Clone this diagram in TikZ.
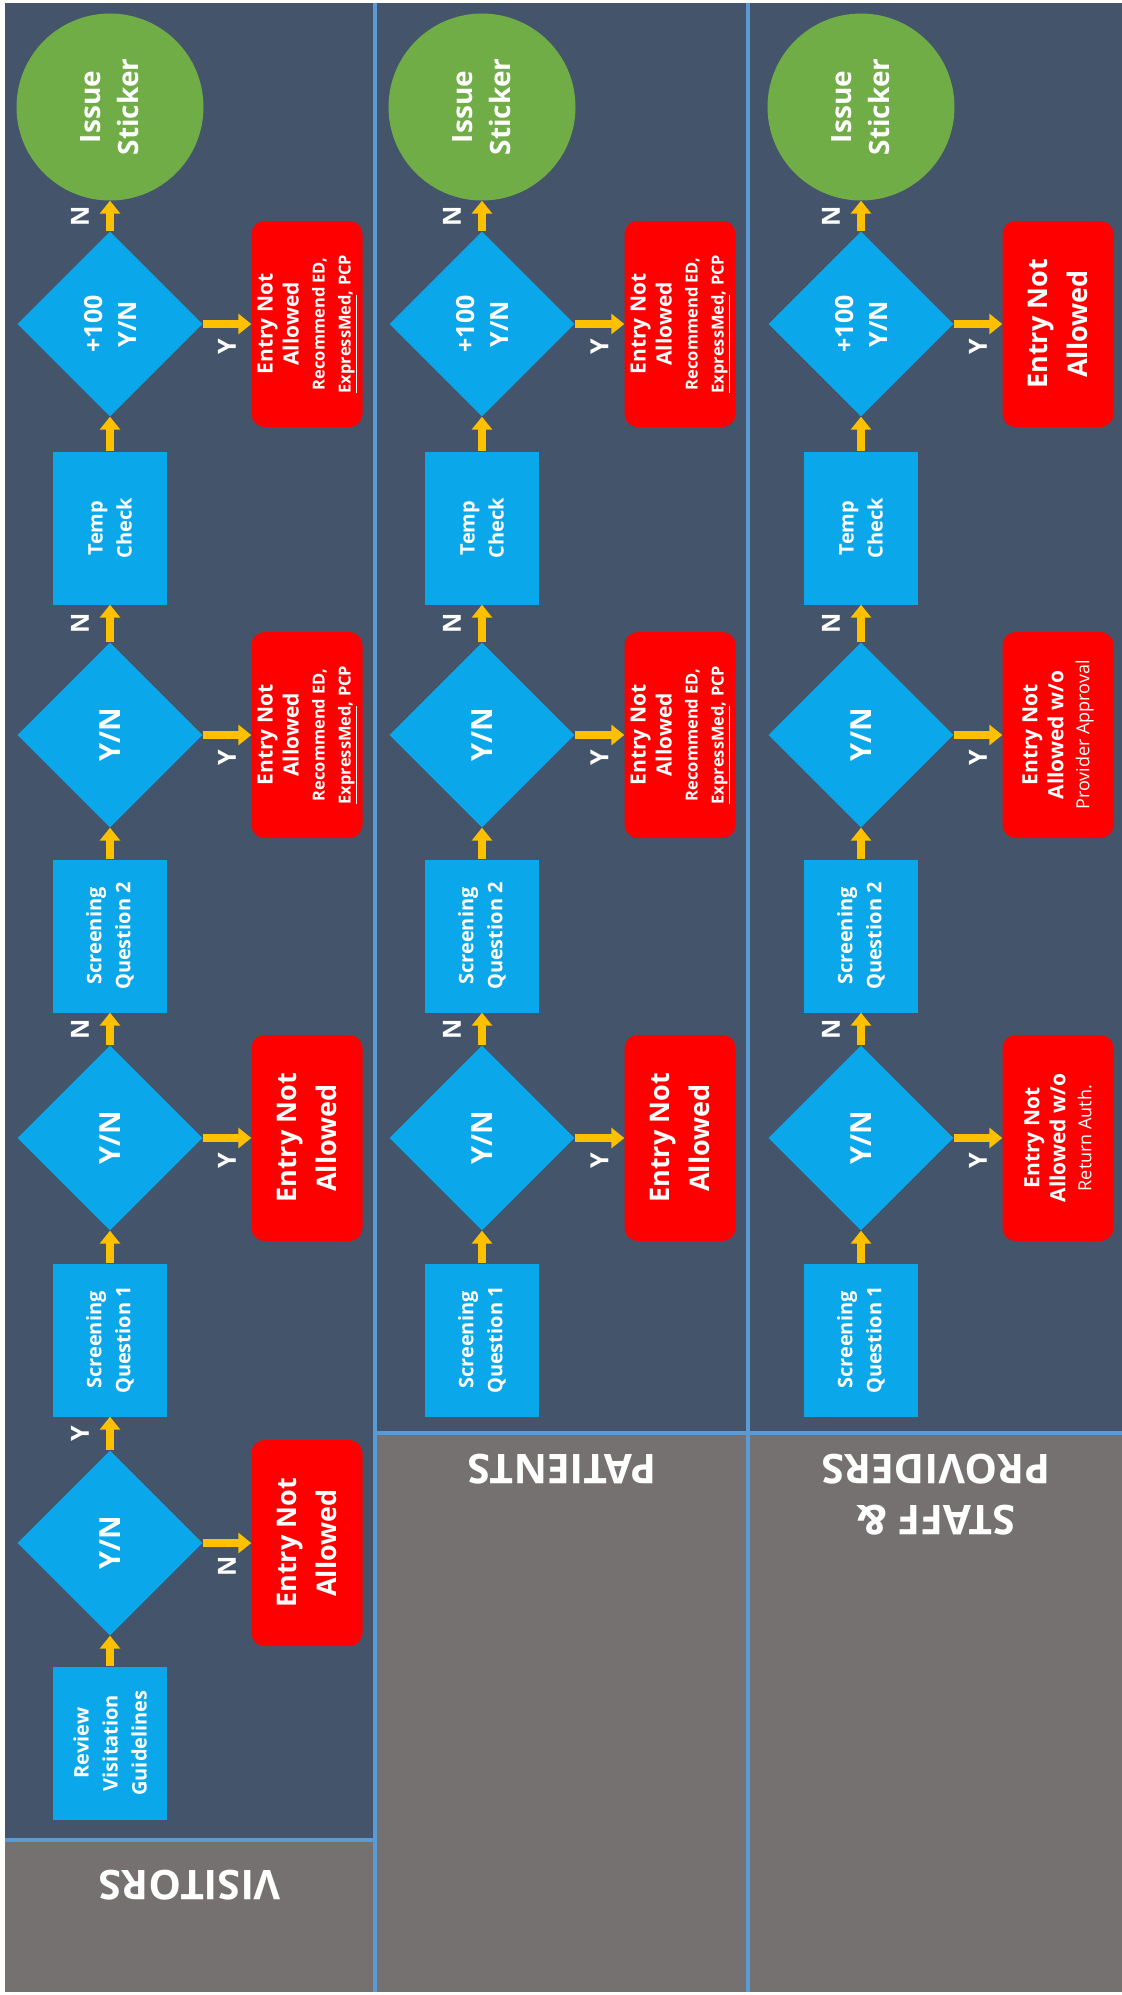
\documentclass[tikz,border=0pt]{standalone}
\usepackage{fontspec}
\setmainfont{Open Sans}
\usetikzlibrary{shapes.geometric,arrows.meta}

\definecolor{slate}{HTML}{44546A}
\definecolor{lanegray}{HTML}{767171}
\definecolor{laneline}{HTML}{5B9BD5}
\definecolor{stepblue}{HTML}{0AA8EA}
\definecolor{stopred}{HTML}{FF0000}
\definecolor{okgreen}{HTML}{70AD47}
\definecolor{gold}{HTML}{FFC000}

\newcommand{\notefont}{\fontsize{16.5}{26}\selectfont}
\newcommand{\plainfont}{\mdseries\fontsize{18}{26}\selectfont}

\begin{document}
\begin{tikzpicture}[x=1pt, y=-1pt,
    procbox/.style={rectangle, fill=stepblue, rotate=90, minimum width=153pt, minimum height=114pt,
                inner sep=0pt, align=center, text=white, font=\bfseries\fontsize{20}{29}\selectfont},
    decision/.style={diamond, fill=stepblue, rotate=90, minimum width=185pt, minimum height=185pt,
                inner sep=0pt, align=center, text=white, font=\bfseries\fontsize{29}{34}\selectfont},
    stopbox/.style={rectangle, rounded corners=13pt, fill=stopred, rotate=90, minimum width=206pt,
                minimum height=111pt, inner sep=0pt, align=center, text=white,
                font=\bfseries\fontsize{21}{26}\selectfont},
    bigstop/.style={stopbox, font=\bfseries\fontsize{27}{40}\selectfont},
    sticker/.style={circle, fill=okgreen, rotate=90, minimum size=187pt, inner sep=0pt,
                align=center, text=white, font=\bfseries\fontsize{28}{38}\selectfont},
    flowarrow/.style={draw=gold, line width=8pt, -{Triangle[length=13pt, width=20pt]}},
    yn/.style={rotate=90, text=white, font=\bfseries\fontsize{25}{25}\selectfont},
    lanetitle/.style={rotate=180, align=center, text=white, font=\bfseries\fontsize{41}{51}\selectfont}
]
    \useasboundingbox (0,0) rectangle (1122,1995);

    % Lanes
    \fill[white] (0,0) rectangle (1122,1995);
    \fill[slate] (5,3) rectangle (1122,1992);
    \fill[lanegray] (5,1840) rectangle (375,1992);
    \fill[lanegray] (375,1433) rectangle (1122,1992);
    \draw[laneline, line width=4pt] (375,3) -- (375,1992);
    \draw[laneline, line width=4pt] (748,3) -- (748,1992);
    \draw[laneline, line width=4pt] (5,1840) -- (375,1840);
    \draw[laneline, line width=4pt] (375,1433) -- (1122,1433);

    \node[lanetitle] (vhead) at (190,1885) {VISITORS};
    \node[lanetitle] (phead) at (562,1469) {PATIENTS};
    \node[lanetitle] (shead) at (936,1495) {STAFF \&\\PROVIDERS};

    % Visitors
    \node[procbox] (vreview) at (110,1743) {Review\\Visitation\\Guidelines};
    \node[decision] (vdec1) at (110,1543) {Y/N};
    \node[bigstop] (vstop1) at (307,1543) {Entry Not\\Allowed};
    \node[procbox] (vsq1) at (110,1340) {Screening\\Question 1};
    \node[decision] (vdec2) at (110,1138) {Y/N};
    \node[bigstop] (vstop2) at (307,1138) {Entry Not\\Allowed};
    \node[procbox] (vsq2) at (110,936) {Screening\\Question 2};
    \node[decision] (vdec3) at (110,735) {Y/N};
    \node[stopbox] (vstop3) at (307,735) {
        Entry Not\\Allowed\\
        \notefont Recommend ED,\\
        \notefont \underline{ExpressMed}, PCP
    };
    \node[procbox] (vtemp) at (110,528) {Temp\\Check};
    \node[decision, font=\bfseries\fontsize{25}{34}\selectfont] (vdec4) at (110,324) {+100\\Y/N};
    \node[stopbox] (vstop4) at (307,324) {
        Entry Not\\Allowed\\
        \notefont Recommend ED,\\
        \notefont \underline{ExpressMed}, PCP
    };
    \node[sticker] (vsticker) at (110,107) {Issue\\Sticker};

    \draw[flowarrow] (vreview) -- (vdec1);
    \draw[flowarrow] (vdec1) -- node[yshift=-23pt, yn] {N} (vstop1);
    \draw[flowarrow] (vdec1) -- node[xshift=-30pt, yn] {Y} (vsq1);
    \draw[flowarrow] (vsq1) -- (vdec2);
    \draw[flowarrow] (vdec2) -- node[yshift=-23pt, yn] {Y} (vstop2);
    \draw[flowarrow] (vdec2) -- node[xshift=-30pt, yn] {N} (vsq2);
    \draw[flowarrow] (vsq2) -- (vdec3);
    \draw[flowarrow] (vdec3) -- node[yshift=-23pt, yn] {Y} (vstop3);
    \draw[flowarrow] (vdec3) -- node[xshift=-30pt, yn] {N} (vtemp);
    \draw[flowarrow] (vtemp) -- (vdec4);
    \draw[flowarrow] (vdec4) -- node[yshift=-23pt, yn] {Y} (vstop4);
    \draw[flowarrow] (vdec4) -- node[xshift=-30pt, yn] {N} (vsticker);

    % Patients
    \node[procbox] (psq1) at (482,1340) {Screening\\Question 1};
    \node[decision] (pdec2) at (482,1138) {Y/N};
    \node[bigstop] (pstop2) at (680,1138) {Entry Not\\Allowed};
    \node[procbox] (psq2) at (482,936) {Screening\\Question 2};
    \node[decision] (pdec3) at (482,735) {Y/N};
    \node[stopbox] (pstop3) at (680,735) {
        Entry Not\\Allowed\\
        \notefont Recommend ED,\\
        \notefont \underline{ExpressMed}, PCP
    };
    \node[procbox] (ptemp) at (482,528) {Temp\\Check};
    \node[decision, font=\bfseries\fontsize{25}{34}\selectfont] (pdec4) at (482,324) {+100\\Y/N};
    \node[stopbox] (pstop4) at (680,324) {
        Entry Not\\Allowed\\
        \notefont Recommend ED,\\
        \notefont \underline{ExpressMed}, PCP
    };
    \node[sticker] (psticker) at (482,107) {Issue\\Sticker};

    \draw[flowarrow] (psq1) -- (pdec2);
    \draw[flowarrow] (pdec2) -- node[yshift=-23pt, yn] {Y} (pstop2);
    \draw[flowarrow] (pdec2) -- node[xshift=-30pt, yn] {N} (psq2);
    \draw[flowarrow] (psq2) -- (pdec3);
    \draw[flowarrow] (pdec3) -- node[yshift=-23pt, yn] {Y} (pstop3);
    \draw[flowarrow] (pdec3) -- node[xshift=-30pt, yn] {N} (ptemp);
    \draw[flowarrow] (ptemp) -- (pdec4);
    \draw[flowarrow] (pdec4) -- node[yshift=-23pt, yn] {Y} (pstop4);
    \draw[flowarrow] (pdec4) -- node[xshift=-30pt, yn] {N} (psticker);

    % Staff & providers
    \node[procbox] (ssq1) at (861,1340) {Screening\\Question 1};
    \node[decision] (sdec2) at (861,1138) {Y/N};
    \node[stopbox] (sstop2) at (1058,1138) {
        Entry Not\\Allowed w/o\\
        \plainfont Return Auth.
    };
    \node[procbox] (ssq2) at (861,936) {Screening\\Question 2};
    \node[decision] (sdec3) at (861,735) {Y/N};
    \node[stopbox] (sstop3) at (1058,735) {
        Entry Not\\Allowed w/o\\
        \plainfont Provider Approval
    };
    \node[procbox] (stemp) at (861,528) {Temp\\Check};
    \node[decision, font=\bfseries\fontsize{25}{34}\selectfont] (sdec4) at (861,324) {+100\\Y/N};
    \node[bigstop] (sstop4) at (1058,324) {Entry Not\\Allowed};
    \node[sticker] (ssticker) at (861,107) {Issue\\Sticker};

    \draw[flowarrow] (ssq1) -- (sdec2);
    \draw[flowarrow] (sdec2) -- node[yshift=-23pt, yn] {Y} (sstop2);
    \draw[flowarrow] (sdec2) -- node[xshift=-30pt, yn] {N} (ssq2);
    \draw[flowarrow] (ssq2) -- (sdec3);
    \draw[flowarrow] (sdec3) -- node[yshift=-23pt, yn] {Y} (sstop3);
    \draw[flowarrow] (sdec3) -- node[xshift=-30pt, yn] {N} (stemp);
    \draw[flowarrow] (stemp) -- (sdec4);
    \draw[flowarrow] (sdec4) -- node[yshift=-23pt, yn] {Y} (sstop4);
    \draw[flowarrow] (sdec4) -- node[xshift=-30pt, yn] {N} (ssticker);
\end{tikzpicture}
\end{document}
